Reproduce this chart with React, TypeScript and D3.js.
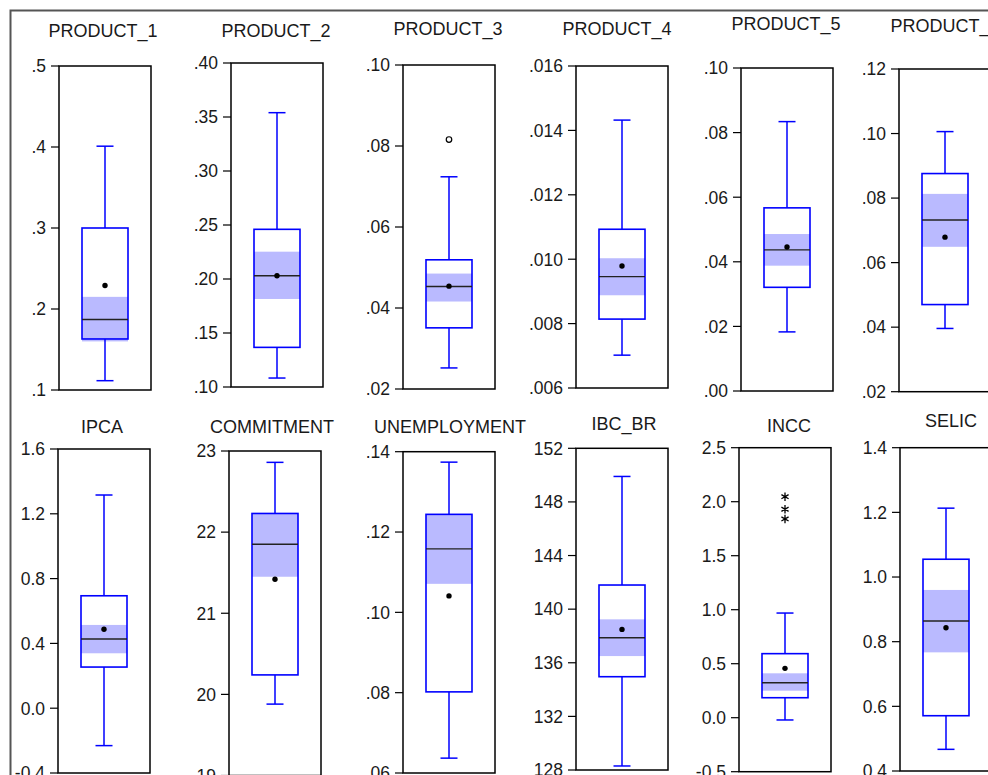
import React from 'react';
import * as d3 from 'd3';

// ---- data ----
const titles = [
  'PRODUCT_1', 'PRODUCT_2', 'PRODUCT_3', 'PRODUCT_4', 'PRODUCT_5', 'PRODUCT_6',
  'IPCA', 'COMMITMENT', 'UNEMPLOYMENT', 'IBC_BR', 'INCC', 'SELIC',
];

const tickLabels = [
  ['.1', '.2', '.3', '.4', '.5'],
  ['.10', '.15', '.20', '.25', '.30', '.35', '.40'],
  ['.02', '.04', '.06', '.08', '.10'],
  ['.006', '.008', '.010', '.012', '.014', '.016'],
  ['.00', '.02', '.04', '.06', '.08', '.10'],
  ['.02', '.04', '.06', '.08', '.10', '.12'],
  ['-0.4', '0.0', '0.4', '0.8', '1.2', '1.6'],
  ['19', '20', '21', '22', '23'],
  ['.06', '.08', '.10', '.12', '.14'],
  ['128', '132', '136', '140', '144', '148', '152'],
  ['-0.5', '0.0', '0.5', '1.0', '1.5', '2.0', '2.5'],
  ['0.4', '0.6', '0.8', '1.0', '1.2', '1.4'],
];

const whiskerHigh = [0.401, 0.354, 0.0724, 0.01432, 0.0834, 0.1006, 1.316, 22.86, 0.1374, 149.9, 0.969, 1.213];
const q3 = [0.300, 0.246, 0.0519, 0.01093, 0.0567, 0.0876, 0.694, 22.23, 0.1244, 141.8, 0.593, 1.055];
const ciHigh = [0.215, 0.2253, 0.0485, 0.01003, 0.0486, 0.0813, 0.514, 22.23, 0.1244, 139.24, 0.411, 0.960];
const median = [0.187, 0.203, 0.0453, 0.00946, 0.0437, 0.0732, 0.427, 21.85, 0.1158, 137.87, 0.324, 0.864];
const mean = [0.229, 0.203, 0.0454, 0.00979, 0.0446, 0.0679, 0.487, 21.42, 0.1041, 138.49, 0.457, 0.843];
const ciLow = [0.160, 0.1815, 0.0416, 0.00888, 0.0388, 0.0649, 0.339, 21.45, 0.1071, 136.5, 0.25, 0.767];
const q1 = [0.163, 0.1367, 0.0351, 0.00814, 0.0321, 0.0470, 0.254, 20.24, 0.0802, 134.96, 0.185, 0.571];
const whiskerLow = [0.1115, 0.1083, 0.0252, 0.00702, 0.0183, 0.0396, -0.231, 19.88, 0.0637, 128.3, -0.021, 0.467];
const nearOutliers = [[], [], [0.0816], [], [], [], [], [], [], [], [], []];
const farOutliers = [[], [], [], [], [], [], [], [], [], [], [2.046, 1.93, 1.84], []];

// ---- layout (pixels) ----
const frameLeft = [59, 231, 403, 576, 741, 899, 58, 229, 403, 576, 739, 900];
const frameTop = [66, 63, 65, 66, 68, 69, 449, 451, 451.7, 448.3, 447.7, 447.7];
const frameBottom = [390, 387, 389, 388, 391, 391.7, 773, 775.5, 773, 770, 771.7, 771];
const titleX = [103, 276, 448, 617, 786, 945, 102, 272, 450, 624, 789, 951];
const titleY = [37, 37, 35, 35, 30, 32, 433, 433, 433, 430, 432, 427];

const W = 988;
const H = 775;
const frameW = 92;
const boxW = 46;
const capW = 17;
const blue = '#0000ff';
const shade = '#babaff';
const textColor = '#1a1a1a';
const font = '"Liberation Sans", Arial, sans-serif';

const Panel = ({ i }: { i: number }) => {
  const ticks = tickLabels[i].map((t) => parseFloat(t));
  const y = d3
    .scaleLinear()
    .domain([ticks[0], ticks[ticks.length - 1]])
    .range([frameBottom[i], frameTop[i]]);
  const x0 = frameLeft[i];
  const cx = x0 + frameW / 2;
  const bx = cx - boxW / 2;
  const star = d3.symbol(d3.symbolAsterisk, 48)() || '';
  const circ = d3.symbol(d3.symbolCircle, 24)() || '';

  return (
    <g>
      <text x={titleX[i]} y={titleY[i]} textAnchor="middle" fontSize={18} fill={textColor} fontFamily={font}>
        {titles[i]}
      </text>
      {tickLabels[i].map((t, k) => (
        <g key={t}>
          <line x1={x0 - 8} x2={x0} y1={y(ticks[k])} y2={y(ticks[k])} stroke="#000" strokeWidth={1.2} />
          <text
            x={x0 - 13}
            y={y(ticks[k])}
            dy="0.36em"
            textAnchor="end"
            fontSize={17.5}
            fill={textColor}
            fontFamily={font}
          >
            {t}
          </text>
        </g>
      ))}
      {/* median confidence band */}
      <rect x={bx} width={boxW} y={y(ciHigh[i])} height={y(ciLow[i]) - y(ciHigh[i])} fill={shade} />
      {/* whiskers */}
      <line x1={cx} x2={cx} y1={y(q3[i])} y2={y(whiskerHigh[i])} stroke={blue} strokeWidth={1.5} />
      <line x1={cx} x2={cx} y1={y(q1[i])} y2={y(whiskerLow[i])} stroke={blue} strokeWidth={1.5} />
      <line x1={cx - capW / 2} x2={cx + capW / 2} y1={y(whiskerHigh[i])} y2={y(whiskerHigh[i])} stroke={blue} strokeWidth={1.5} />
      <line x1={cx - capW / 2} x2={cx + capW / 2} y1={y(whiskerLow[i])} y2={y(whiskerLow[i])} stroke={blue} strokeWidth={1.5} />
      {/* box */}
      <rect x={bx} width={boxW} y={y(q3[i])} height={y(q1[i]) - y(q3[i])} fill="none" stroke={blue} strokeWidth={1.6} />
      <line x1={bx} x2={bx + boxW} y1={y(median[i])} y2={y(median[i])} stroke="#222" strokeWidth={1.4} />
      <circle cx={cx} cy={y(mean[i])} r={2.7} fill="#000" />
      {nearOutliers[i].map((v, k) => (
        <path key={'n' + k} d={circ} transform={`translate(${cx},${y(v)})`} fill="#fff" stroke="#000" strokeWidth={1.2} />
      ))}
      {farOutliers[i].map((v, k) => (
        <path key={'f' + k} d={star} transform={`translate(${cx},${y(v)})`} fill="none" stroke="#000" strokeWidth={1.3} />
      ))}
      {/* frame */}
      <rect x={x0} y={frameTop[i]} width={frameW} height={frameBottom[i] - frameTop[i]} fill="none" stroke="#000" strokeWidth={1.5} />
    </g>
  );
};

export default function App() {
  return (
    <svg width={W} height={H} style={{ position: 'absolute', left: 0, top: 0, background: '#fff' }}>
      <rect x={0} y={0} width={W} height={H} fill="#fff" />
      <rect x={10.5} y={10.5} width={W + 20} height={H + 20} fill="none" stroke="#555" strokeWidth={2} />
      {titles.map((_, i) => (
        <Panel key={i} i={i} />
      ))}
    </svg>
  );
}
